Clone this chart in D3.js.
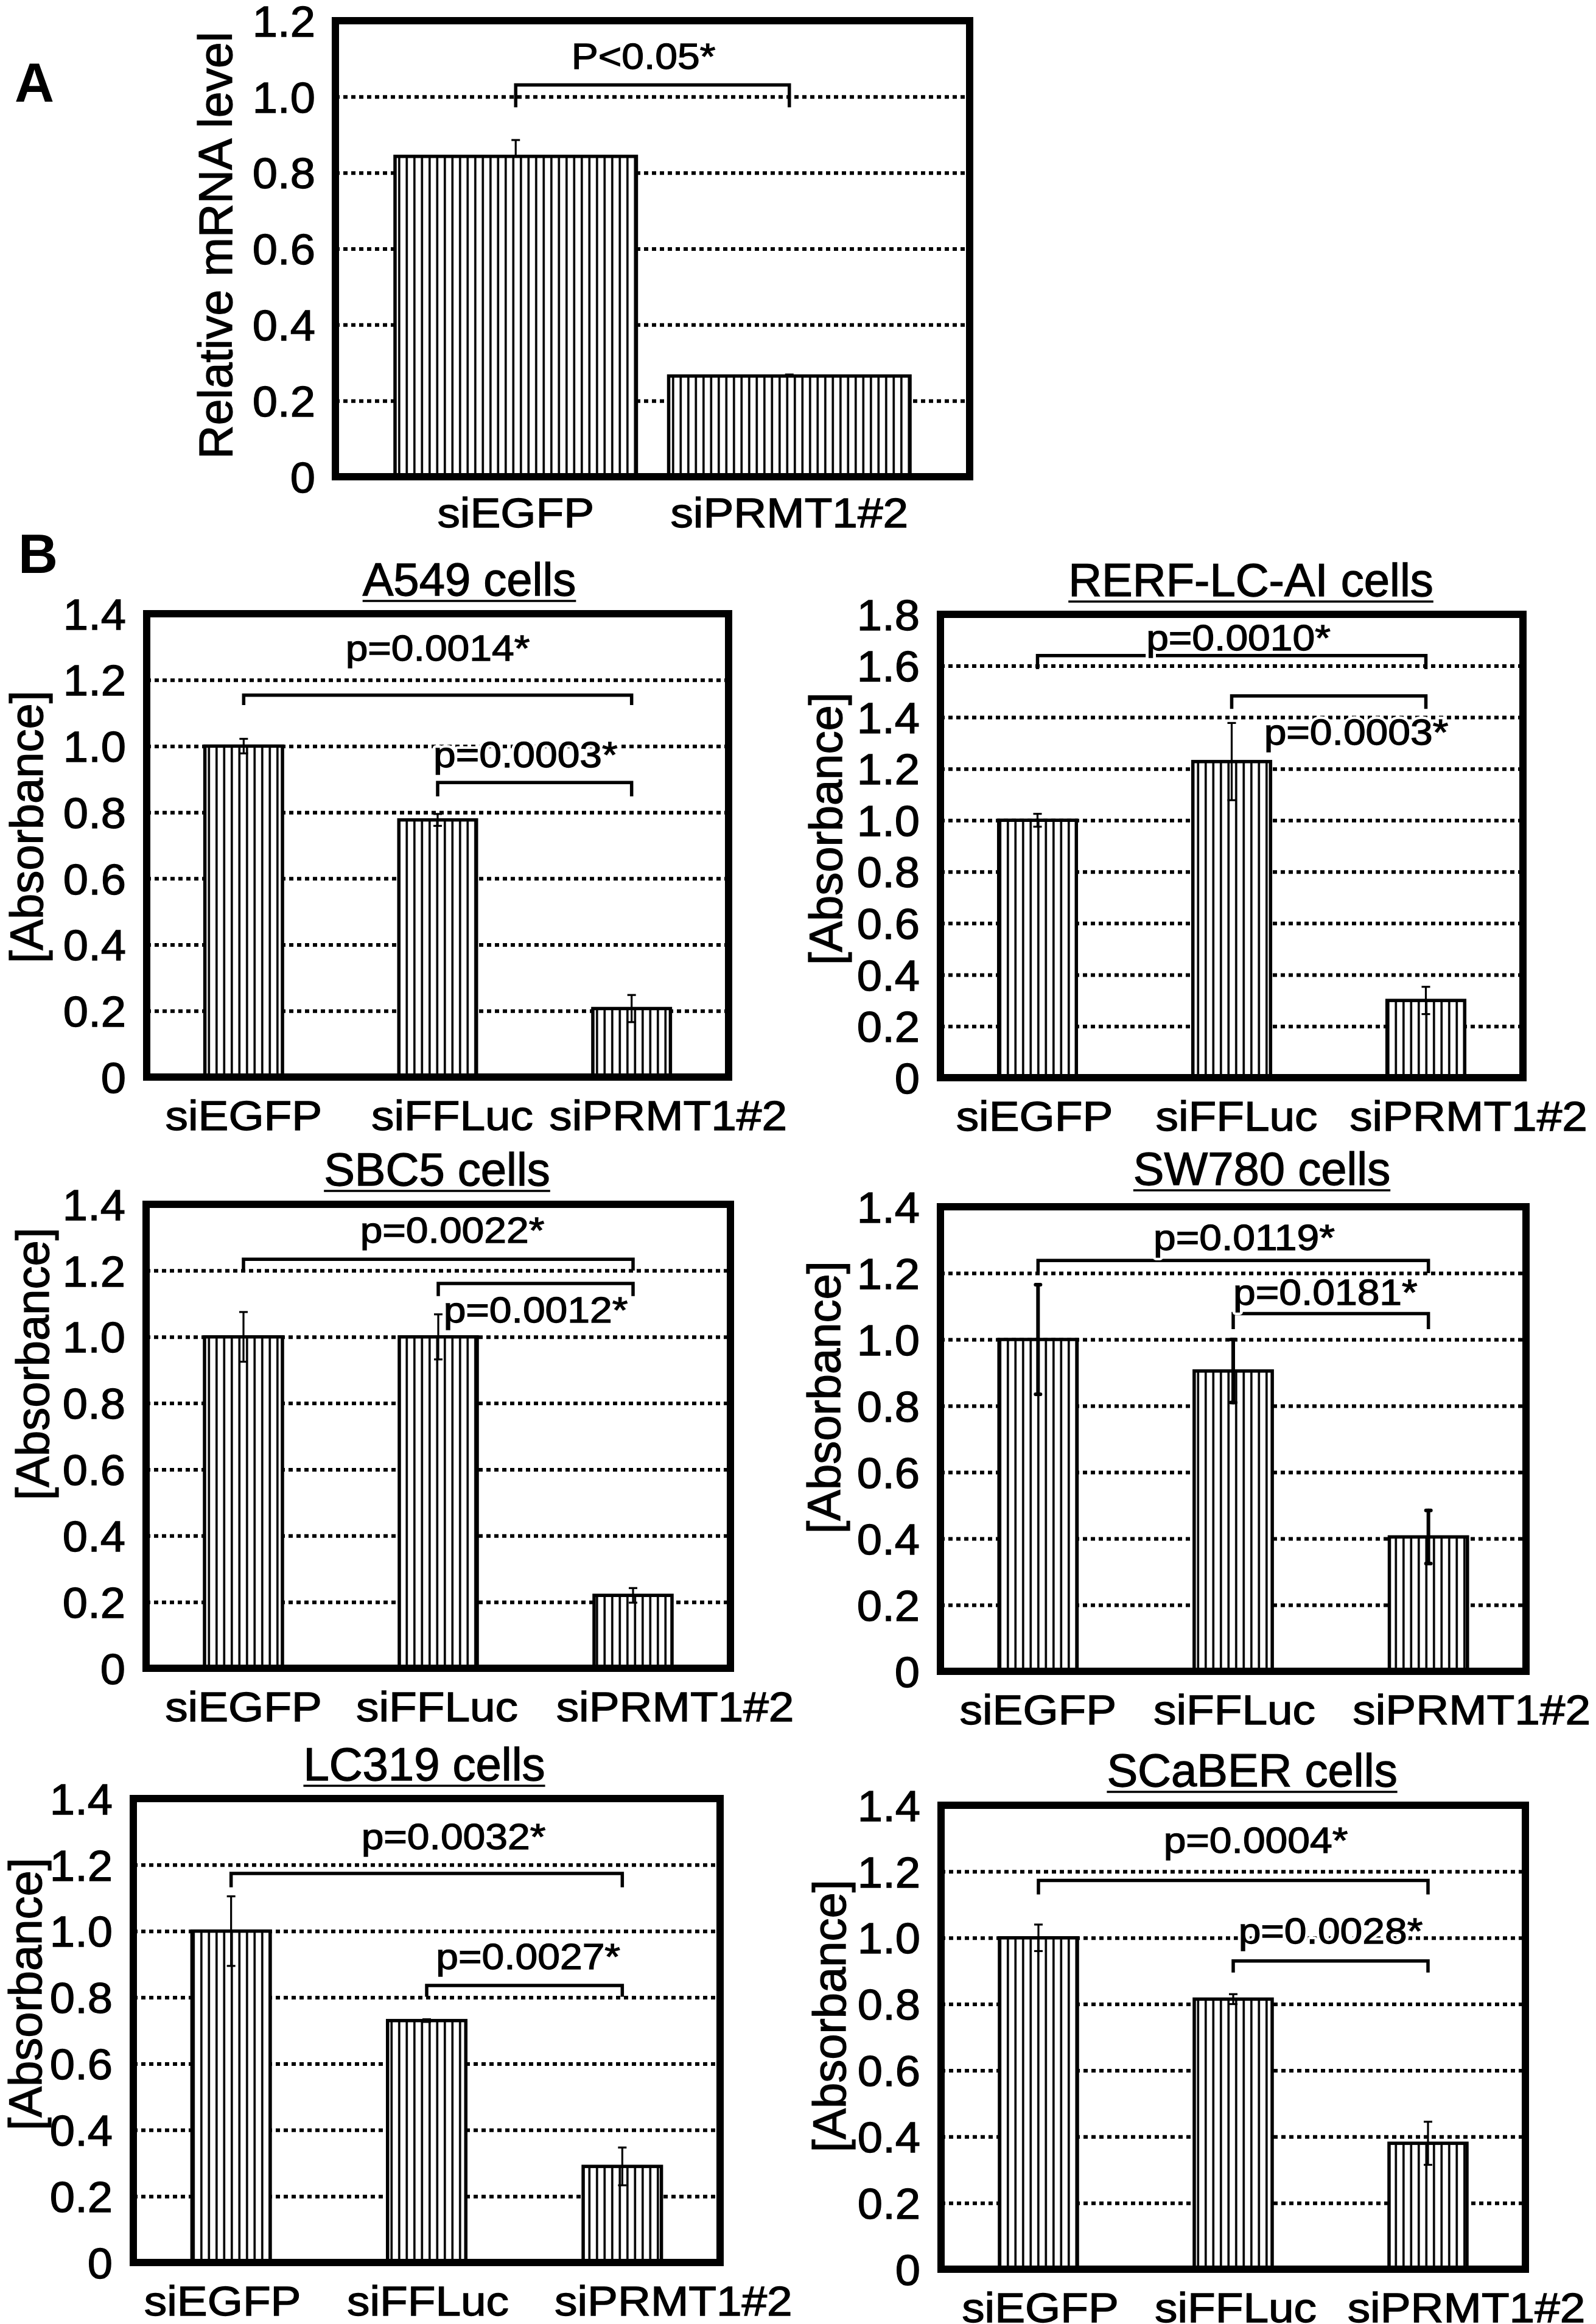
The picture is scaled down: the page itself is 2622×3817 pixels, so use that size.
<!DOCTYPE html>
<html>
<head>
<meta charset="utf-8">
<script src="https://cdn.jsdelivr.net/npm/d3@7"></script>
<style>
  html, body { margin: 0; padding: 0; background: #fff; }
  svg { display: block; }
</style>
</head>
<body>
<svg id="fig" width="2622" height="3817"></svg>
<script>
// ---------------- DATA ----------------
// Panel A
const categoriesA = ["siEGFP", "siPRMT1#2"];
const valuesA = [0.843, 0.265];
const errorsA = [0.043, 0.004];
const ticksA = [0, 0.2, 0.4, 0.6, 0.8, 1.0, 1.2];
const tickLabelsA = ["0", "0.2", "0.4", "0.6", "0.8", "1.0", "1.2"];
const yTitleA = "Relative mRNA level";
const pLabelA = "P<0.05*";
const bracketLevelA = 1.031;
const bracketLegA = 0.972;
const pLabelLevelA = 1.074;

// Panel B
const categoriesB = ["siEGFP", "siFFLuc", "siPRMT1#2"];
const cellLines = ["A549 cells", "RERF-LC-AI cells", "SBC5 cells", "SW780 cells", "LC319 cells", "SCaBER cells"];
const meansB = [
  [1.0, 0.777, 0.207],
  [1.0, 1.228, 0.300],
  [1.0, 1.000, 0.220],
  [1.0, 0.905, 0.405],
  [1.0, 0.730, 0.290],
  [1.0, 0.815, 0.380]
];
const errorsB = [
  [0.022, 0.018, 0.041],
  [0.025, 0.150, 0.053],
  [0.075, 0.068, 0.022],
  [0.165, 0.095, 0.080],
  [0.105, 0.004, 0.057],
  [0.040, 0.015, 0.065]
];
const yMaxB = [1.4, 1.8, 1.4, 1.4, 1.4, 1.4];
const ticks14 = [0, 0.2, 0.4, 0.6, 0.8, 1.0, 1.2, 1.4];
const tickLabels14 = ["0", "0.2", "0.4", "0.6", "0.8", "1.0", "1.2", "1.4"];
const ticks18 = [0, 0.2, 0.4, 0.6, 0.8, 1.0, 1.2, 1.4, 1.6, 1.8];
const tickLabels18 = ["0", "0.2", "0.4", "0.6", "0.8", "1.0", "1.2", "1.4", "1.6", "1.8"];
const yTitleB = "[Absorbance]";
const bracketPairs = [[0, 2], [1, 2]];
const pLabelsB = [
  ["p=0.0014*", "p=0.0003*"],
  ["p=0.0010*", "p=0.0003*"],
  ["p=0.0022*", "p=0.0012*"],
  ["p=0.0119*", "p=0.0181*"],
  ["p=0.0032*", "p=0.0027*"],
  ["p=0.0004*", "p=0.0028*"]
];
const bracketLevelsB = [[1.154, 0.890], [1.640, 1.483], [1.234, 1.161], [1.238, 1.078], [1.174, 0.836], [1.173, 0.930]];
const bracketLegsB   = [[1.124, 0.848], [1.587, 1.433], [1.200, 1.123], [1.200, 1.031], [1.132, 0.802], [1.131, 0.895]];
const pLabelLevelsB  = [[1.258, 0.936], [1.660, 1.293], [1.285, 1.044], [1.270, 1.105], [1.247, 0.886], [1.256, 0.983]];

// ---------------- LAYOUT ----------------
const FONT = '"Liberation Sans", Arial, Helvetica, sans-serif';
const TEXT_STROKE = 1.3;
const layoutA = {
  frame: {x0: 551, x1: 1593, y0: 34, y1: 783},
  pi: 0.118, po: 0.218,
  tickGap: 33, labelGap: 83, labelShift: [0, 0],
  yt: {x: 381, y: 403, size: 77},
  pShift: [-15], upperOnly: true
};
const layoutB = [
  {frame: {x0: 241,  x1: 1197, y0: 1008, y1: 1769}, title: {x: 771,  y: 978},  yt: {x: 70,   y: 1358}, labelShift: [0, 24, 60],  pShift: [0, -15]},
  {frame: {x0: 1545, x1: 2502, y0: 1009, y1: 1770}, title: {x: 2055, y: 979},  yt: {x: 1383, y: 1361}, labelShift: [-5, 8, 70],  pShift: [11, 45]},
  {frame: {x0: 240,  x1: 1200, y0: 1978, y1: 2740}, title: {x: 718,  y: 1947}, yt: {x: 80,   y: 2240}, labelShift: [0, -2, 69],  pShift: [23, 0]},
  {frame: {x0: 1545, x1: 2507, y0: 1982, y1: 2745}, title: {x: 2073, y: 1946}, yt: {x: 1380, y: 2295}, labelShift: [0, 2, 71],   pShift: [18, -9], thickErr: true},
  {frame: {x0: 219,  x1: 1183, y0: 2954, y1: 3716}, title: {x: 697,  y: 2924}, yt: {x: 68,   y: 3275}, labelShift: [-14, 2, 84], pShift: [44, 6]},
  {frame: {x0: 1546, x1: 2506, y0: 2965, y1: 3727}, title: {x: 2057, y: 2934}, yt: {x: 1389, y: 3311}, labelShift: [3, 4, 63],   pShift: [37, 0]}
];

// ---------------- DRAW ----------------
const svg = d3.select("#fig");
svg.append("rect").attr("width", 2622).attr("height", 3817).attr("fill", "#fff");
const defs = svg.append("defs");
const pat = defs.append("pattern").attr("id", "hatch")
  .attr("patternUnits", "userSpaceOnUse").attr("width", 12.5).attr("height", 20);
pat.append("rect").attr("width", 12.5).attr("height", 20).attr("fill", "#fff");
pat.append("rect").attr("x", 4).attr("width", 3.6).attr("height", 20).attr("fill", "#000");

function sText(g, str, x, y, size, opts = {}) {
  const sx = opts.sx || 1;
  const mk = () => g.append("text")
    .attr("transform", `translate(${x},${y}) scale(${sx},1)`)
    .attr("text-anchor", opts.anchor || "middle")
    .attr("font-size", size)
    .attr("font-family", FONT)
    .attr("font-weight", opts.weight || "normal")
    .text(str);
  if (opts.halo) {
    mk().attr("fill", "#fff").attr("stroke", "#fff").attr("stroke-width", opts.halo)
      .attr("stroke-linejoin", "round");
  }
  const t = mk().attr("fill", "#000");
  if (!opts.weight) t.attr("stroke", "#000").attr("stroke-width", TEXT_STROKE);
  return t;
}

function drawPanel(p) {
  const f = p.frame;
  const x = d3.scaleBand().domain(p.cats).range([f.x0, f.x1])
    .paddingInner(p.pi).paddingOuter(p.po);
  const y = d3.scaleLinear().domain([0, p.yMax]).range([f.y1, f.y0]);
  const g = svg.append("g");

  // dotted gridlines
  const grid = g.append("g").attr("transform", `translate(${f.x0},0)`)
    .call(d3.axisRight(y).tickValues(p.ticks.filter(v => v > 0 && v < p.yMax - 1e-9))
      .tickSize(f.x1 - f.x0).tickFormat(""));
  grid.select(".domain").remove();
  grid.selectAll("line").attr("stroke", "#000").attr("stroke-width", 6).attr("stroke-dasharray", "7,6");

  // bars
  g.append("g").selectAll("rect").data(p.means).join("rect")
    .attr("x", (d, i) => x(p.cats[i]))
    .attr("y", d => y(d))
    .attr("width", x.bandwidth())
    .attr("height", d => y(0) - y(d))
    .attr("fill", "url(#hatch)")
    .attr("stroke", "#000").attr("stroke-width", 5.5);

  // error bars
  const eg = g.append("g").attr("stroke", "#000")
    .attr("stroke-width", p.thickErr ? 6 : 3.2)
    .attr("stroke-linecap", p.thickErr ? "round" : "butt");
  const capW = p.thickErr ? 8 : 14;
  p.means.forEach((m, i) => {
    const cx = x(p.cats[i]) + x.bandwidth() / 2;
    const e = p.errs[i];
    const lo = p.upperOnly ? m : m - e;
    eg.append("line").attr("x1", cx).attr("x2", cx).attr("y1", y(m + e)).attr("y2", y(lo));
    eg.append("line").attr("x1", cx - capW / 2).attr("x2", cx + capW / 2).attr("y1", y(m + e)).attr("y2", y(m + e));
    if (!p.upperOnly) {
      eg.append("line").attr("x1", cx - capW / 2).attr("x2", cx + capW / 2).attr("y1", y(m - e)).attr("y2", y(m - e));
    }
  });

  // significance brackets
  const bg = g.append("g");
  p.brackets.forEach((b) => {
    const xa = x(p.cats[b.pair[0]]) + x.bandwidth() / 2;
    const xb = x(p.cats[b.pair[1]]) + x.bandwidth() / 2;
    const path = d3.path();
    path.moveTo(xa, y(b.leg));
    path.lineTo(xa, y(b.level));
    path.lineTo(xb, y(b.level));
    path.lineTo(xb, y(b.leg));
    bg.append("path").attr("d", path.toString()).attr("fill", "none")
      .attr("stroke", "#000").attr("stroke-width", 5.5);
  });
  p.brackets.forEach((b, k) => {
    const xa = x(p.cats[b.pair[0]]) + x.bandwidth() / 2;
    const xb = x(p.cats[b.pair[1]]) + x.bandwidth() / 2;
    sText(bg, b.label, (xa + xb) / 2 + (p.pShift[k] || 0), y(b.labelLevel), 60, {sx: 1.1, halo: 10});
  });

  // frame
  g.append("rect").attr("x", f.x0).attr("y", f.y0)
    .attr("width", f.x1 - f.x0).attr("height", f.y1 - f.y0)
    .attr("fill", "none").attr("stroke", "#000").attr("stroke-width", 12);

  // y tick labels
  const ax = g.append("g").attr("transform", `translate(${f.x0},0)`)
    .call(d3.axisLeft(y).tickValues(p.ticks).tickFormat((d, i) => p.tickLabels[i]).tickSize(0).tickPadding(0));
  ax.select(".domain").remove();
  ax.attr("font-size", 70).attr("font-family", FONT);
  ax.selectAll("text").attr("fill", "#000").attr("stroke", "#000").attr("stroke-width", TEXT_STROKE)
    .attr("x", -p.tickGap / 1.06).attr("dy", "0.36em")
    .attr("transform", "scale(1.06,1)");

  // x labels
  const bx = g.append("g").attr("transform", `translate(0,${f.y1})`)
    .call(d3.axisBottom(x).tickSize(0).tickPadding(0));
  bx.select(".domain").remove();
  bx.attr("font-size", 68).attr("font-family", FONT);
  bx.selectAll("text").attr("fill", "#000").attr("stroke", "#000").attr("stroke-width", TEXT_STROKE)
    .attr("y", 0).attr("dy", null)
    .attr("transform", (d, i) => `translate(${p.labelShift[i]},${p.labelGap}) scale(1.1,1)`);

  // y title
  g.append("text")
    .attr("transform", `translate(${p.yt.x},${p.yt.y}) rotate(-90)`)
    .attr("text-anchor", "middle").attr("font-size", p.yt.size || 76)
    .attr("font-family", FONT).attr("fill", "#000")
    .attr("stroke", "#000").attr("stroke-width", TEXT_STROKE)
    .text(p.yTitle);

  // title with underline
  if (p.title) {
    const t = sText(g, p.titleText, p.title.x, p.title.y, 76);
    const w = t.node().getBBox().width;
    g.append("line").attr("x1", p.title.x - w / 2).attr("x2", p.title.x + w / 2)
      .attr("y1", p.title.y + 9).attr("y2", p.title.y + 9)
      .attr("stroke", "#000").attr("stroke-width", 3.5);
  }
}

// Panel A
drawPanel(Object.assign({}, layoutA, {
  cats: categoriesA, means: valuesA, errs: errorsA, yMax: 1.2,
  ticks: ticksA, tickLabels: tickLabelsA, yTitle: yTitleA,
  brackets: [{pair: [0, 1], level: bracketLevelA, leg: bracketLegA, label: pLabelA, labelLevel: pLabelLevelA}]
}));

// Panel B
cellLines.forEach((name, i) => {
  const L = layoutB[i];
  const is18 = yMaxB[i] > 1.5;
  drawPanel(Object.assign({}, L, {
    cats: categoriesB, means: meansB[i], errs: errorsB[i], yMax: yMaxB[i],
    ticks: is18 ? ticks18 : ticks14, tickLabels: is18 ? tickLabels18 : tickLabels14,
    pi: 0.6, po: 0.3, tickGap: 34, labelGap: 87,
    yTitle: yTitleB, yt: {x: L.yt.x, y: L.yt.y, size: 76},
    titleText: name,
    brackets: bracketPairs.map((pr, k) => ({
      pair: pr, level: bracketLevelsB[i][k], leg: bracketLegsB[i][k],
      label: pLabelsB[i][k], labelLevel: pLabelLevelsB[i][k]
    }))
  }));
});

// Panel letters
sText(svg, "A", 24, 167, 90, {anchor: "start", weight: "bold"});
sText(svg, "B", 30, 941, 90, {anchor: "start", weight: "bold"});
</script>
</body>
</html>
